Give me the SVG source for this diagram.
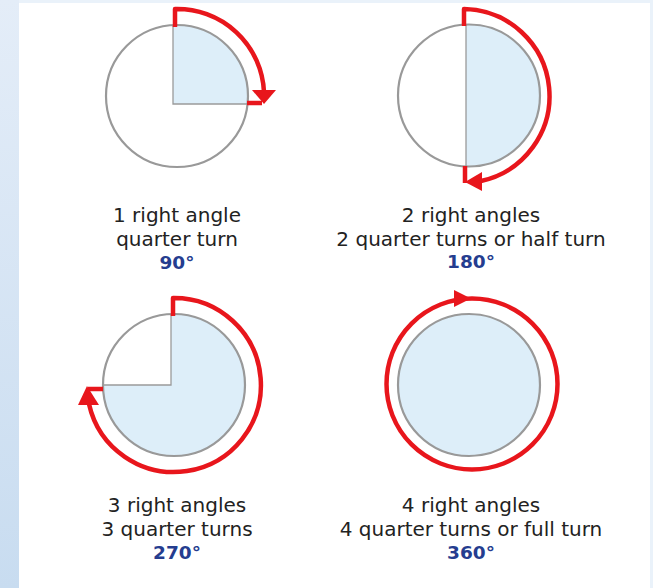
<svg xmlns="http://www.w3.org/2000/svg" width="653" height="588" viewBox="0 0 653 588">
<defs>
<linearGradient id="side" x1="0" y1="0" x2="0" y2="1">
<stop offset="0" stop-color="#e4edf8"/>
<stop offset="1" stop-color="#c8dcf0"/>
</linearGradient>
<clipPath id="q1"><rect x="173" y="0" width="120" height="104"/></clipPath>
<clipPath id="q2"><rect x="466" y="0" width="120" height="200"/></clipPath>
<clipPath id="q3"><path d="M0,280 H300 V480 H0 Z M0,280 H171 V385 H0 Z" clip-rule="evenodd"/></clipPath>
</defs>
<style>
.disc{fill:#ffffff;stroke:none}
.fillb{fill:#ddeef9;stroke:none}
.rim{fill:none;stroke:#999999;stroke-width:2.2}
.ray{fill:none;stroke:#9a9a9a;stroke-width:1.3}
.red{fill:none;stroke:#e8161c;stroke-width:4.5;stroke-linejoin:round}
.head{fill:#e8161c;stroke:none}
text{font-family:"DejaVu Sans","Liberation Sans",sans-serif;text-anchor:middle}
.lbl{font-size:20px;fill:#222222}
.deg{font-size:18.5px;font-weight:bold;fill:#253d8f}
</style>
<rect x="0" y="0" width="653" height="588" fill="#eaf2fa"/>
<rect x="0" y="0" width="19" height="588" fill="url(#side)"/>
<rect x="19" y="3" width="631" height="585" fill="#ffffff"/>

<g id="quarter-turn">
<circle class="disc" cx="177" cy="96" r="71"/>
<circle class="fillb" cx="177" cy="96" r="71" clip-path="url(#q1)"/>
<path class="ray" d="M173,25 V104 H248"/>
<circle class="rim" cx="177" cy="96" r="71"/>
<text class="lbl" x="177" y="222">1 right angle</text>
<text class="lbl" x="177" y="246">quarter turn</text>
<text class="deg" x="177" y="269">90°</text>
</g>

<g id="half-turn">
<circle class="disc" cx="469" cy="95.5" r="71"/>
<circle class="fillb" cx="469" cy="95.5" r="71" clip-path="url(#q2)"/>
<path class="ray" d="M466,24.6 V166.4"/>
<circle class="rim" cx="469" cy="95.5" r="71"/>
<text class="lbl" x="471" y="222">2 right angles</text>
<text class="lbl" x="471" y="246">2 quarter turns or half turn</text>
<text class="deg" x="471" y="268">180°</text>
</g>

<g id="three-quarter-turn">
<circle class="disc" cx="174" cy="385" r="71"/>
<circle class="fillb" cx="174" cy="385" r="71" clip-path="url(#q3)"/>
<path class="ray" d="M171,314.1 V385 H103"/>
<circle class="rim" cx="174" cy="385" r="71"/>
<text class="lbl" x="177" y="512">3 right angles</text>
<text class="lbl" x="177" y="536">3 quarter turns</text>
<text class="deg" x="177" y="559">270°</text>
</g>

<g id="full-turn">
<circle class="fillb" cx="469" cy="385" r="71"/>
<circle class="rim" cx="469" cy="385" r="71"/>
<text class="lbl" x="471" y="512">4 right angles</text>
<text class="lbl" x="471" y="536">4 quarter turns or full turn</text>
<text class="deg" x="471" y="559">360°</text>
</g>

<g id="connectors">
<path class="red" d="M175,27 V9 A87,87 0 0 1 264,92"/>
<path class="red" d="M247,103 H262"/>
<polygon class="head" points="252,90 276,90 264,104"/>

<path class="red" d="M464,26 V9 A87,87 0 0 1 481,181"/>
<path class="red" d="M465,166 V183"/>
<polygon class="head" points="465,182 482,172 482,191"/>

<path class="red" d="M173,316 V298 A87,87 0 1 1 89,404"/>
<path class="red" d="M103,389 H88"/>
<polygon class="head" points="87,386 78,405 99,405"/>

<circle class="red" cx="472" cy="384" r="85.5"/>
<polygon class="head" points="454,290 454,307 471,298.5"/>
</g>
</svg>
